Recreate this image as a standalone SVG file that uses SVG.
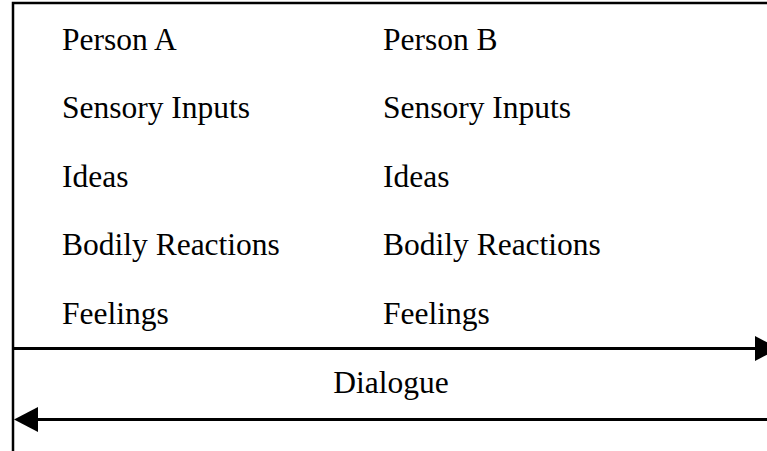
<svg xmlns="http://www.w3.org/2000/svg" width="767" height="451" viewBox="0 0 767 451">
  <style>
    .t { font-family: "Liberation Serif", "Times New Roman", serif; font-size: 31.5px; fill: #000; }
    .frame { fill: none; stroke: #000; stroke-width: 2.5; }
    .arrow { fill: none; stroke: #000; stroke-width: 3; marker-end: url(#head); }
  </style>
  <defs>
    <marker id="head" markerUnits="userSpaceOnUse" markerWidth="24" markerHeight="25" refX="0" refY="12.5" orient="auto" overflow="visible">
      <path d="M0,0 L24,12.5 L0,25 Z" fill="#000"/>
    </marker>
  </defs>
  <rect width="767" height="451" fill="#fff"/>
  <path class="frame" d="M13,451 V3 H767"/>
  <g id="personA">
    <text class="t" x="62" y="49.5">Person A</text>
    <text class="t" x="62" y="118">Sensory Inputs</text>
    <text class="t" x="62" y="186.5">Ideas</text>
    <text class="t" x="62" y="255">Bodily Reactions</text>
    <text class="t" x="62" y="323.5">Feelings</text>
  </g>
  <g id="personB">
    <text class="t" x="383" y="49.5">Person B</text>
    <text class="t" x="383" y="118">Sensory Inputs</text>
    <text class="t" x="383" y="186.5">Ideas</text>
    <text class="t" x="383" y="255">Bodily Reactions</text>
    <text class="t" x="383" y="323.5">Feelings</text>
  </g>
  <g id="dialogue">
    <text class="t" x="391" y="393" text-anchor="middle">Dialogue</text>
  </g>
  <g id="connectors">
    <line class="arrow" x1="13" y1="348.5" x2="755" y2="348.5"/>
    <line class="arrow" x1="767" y1="419.5" x2="38" y2="419.5"/>
  </g>
</svg>
